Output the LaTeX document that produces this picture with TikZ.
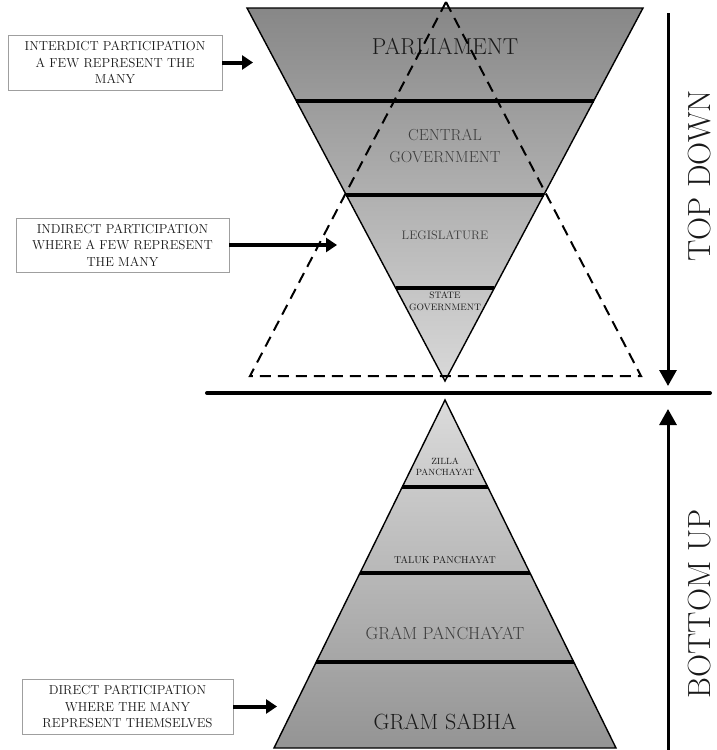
\documentclass[tikz,border=0pt]{standalone}
\usetikzlibrary{arrows.meta,calc}
\definecolor{ugtop}{gray}{0.53}
\definecolor{ugbot}{gray}{0.85}
\definecolor{lgtop}{gray}{0.86}
\definecolor{lgbot}{gray}{0.58}
\definecolor{txtdark}{gray}{0.1}
\definecolor{txtmid}{gray}{0.24}
\begin{document}
\begin{tikzpicture}[x=1pt,y=-1pt,
  bandline/.style={line width=4.5pt,line cap=butt},
  outline/.style={draw=black,line width=1.4pt,line join=miter},
  dashtri/.style={draw=black,line width=2pt,dash pattern=on 11pt off 7pt},
  lbl/.style={draw=gray!75,line width=0.8pt,fill=white,align=center,
    font=\fontsize{13}{16.5}\selectfont,text=txtdark,inner sep=0pt},
  pointer/.style={line width=4pt,-{Triangle[length=11pt,width=14pt]}},
  dirarrow/.style={line width=3pt,-{Triangle[length=16pt,width=17pt]}},
  tierlbl/.style={align=center,inner sep=0pt,text=txtdark},
  sidelbl/.style={rotate=90,inner sep=0pt,text=txtdark,font=\fontsize{32}{32}\selectfont}]
\useasboundingbox (0,0) rectangle (717,750);

% ---------- upper (inverted) triangle ----------
\coordinate (UTL) at (247,8);
\coordinate (UTR) at (643,8);
\coordinate (UAP) at (445,381);
\shade[top color=ugtop,bottom color=ugbot] (UTL) -- (UTR) -- (UAP) -- cycle;
\coordinate (U1L) at ($(UTL)!0.2493!(UAP)$);
\coordinate (U1R) at ($(UTR)!0.2493!(UAP)$);
\coordinate (U2L) at ($(UTL)!0.5013!(UAP)$);
\coordinate (U2R) at ($(UTR)!0.5013!(UAP)$);
\coordinate (U3L) at ($(UTL)!0.7507!(UAP)$);
\coordinate (U3R) at ($(UTR)!0.7507!(UAP)$);
\draw[bandline] (U1L) -- (U1R);
\draw[bandline] (U2L) -- (U2R);
\draw[bandline] (U3L) -- (U3R);
\draw[outline] (UTL) -- (UTR) -- (UAP) -- cycle;

\node[tierlbl,font=\fontsize{23}{23}\selectfont] (parl) at (445,47) {PARLIAMENT};
\node[tierlbl,text=txtmid,font=\fontsize{16}{22}\selectfont] (cgov) at (445,146) {CENTRAL\\GOVERNMENT};
\node[tierlbl,text=txtmid,font=\fontsize{12.3}{12.3}\selectfont] (legis) at (445,235) {LEGISLATURE};
\node[tierlbl,font=\fontsize{9.3}{12}\selectfont] (sgov) at (445,301) {STATE\\GOVERNMENT};

% ---------- dashed triangle ----------
\coordinate (DA) at (446,2);
\coordinate (DL) at (250,376);
\coordinate (DR) at (641,376);
\draw[dashtri] (DA) -- (DL) -- (DR) -- cycle;

% ---------- dividing line ----------
\coordinate (HL) at (207,393);
\coordinate (HR) at (710,393);
\draw[line width=4pt,line cap=round] (HL) -- (HR);

% ---------- lower pyramid ----------
\coordinate (LAP) at (445,400);
\coordinate (LBL) at (274,748);
\coordinate (LBR) at (616,748);
\shade[top color=lgtop,bottom color=lgbot] (LAP) -- (LBR) -- (LBL) -- cycle;
\coordinate (L1L) at ($(LAP)!0.25!(LBL)$);
\coordinate (L1R) at ($(LAP)!0.25!(LBR)$);
\coordinate (L2L) at ($(LAP)!0.4971!(LBL)$);
\coordinate (L2R) at ($(LAP)!0.4971!(LBR)$);
\coordinate (L3L) at ($(LAP)!0.7529!(LBL)$);
\coordinate (L3R) at ($(LAP)!0.7529!(LBR)$);
\draw[bandline] (L1L) -- (L1R);
\draw[bandline] (L2L) -- (L2R);
\draw[bandline] (L3L) -- (L3R);
\draw[outline] (LAP) -- (LBR) -- (LBL) -- cycle;

\node[tierlbl,font=\fontsize{9}{11}\selectfont] (zilla) at (445,467) {ZILLA\\PANCHAYAT};
\node[tierlbl,font=\fontsize{10}{10}\selectfont] (taluk) at (445,560) {TALUK PANCHAYAT};
\node[tierlbl,text=txtmid,font=\fontsize{17.5}{17.5}\selectfont] (gpan) at (445,633) {GRAM PANCHAYAT};
\node[tierlbl,font=\fontsize{22}{22}\selectfont] (gsab) at (445,722) {GRAM SABHA};

% ---------- label boxes ----------
\node[lbl,minimum width=214pt,minimum height=55pt] (b1) at (115,62.5)
  {INTERDICT PARTICIPATION\\A FEW REPRESENT THE\\MANY};
\node[lbl,minimum width=213pt,minimum height=54pt] (b2) at (122.5,245)
  {INDIRECT PARTICIPATION\\WHERE A FEW REPRESENT\\THE MANY};
\node[lbl,minimum width=211pt,minimum height=55pt] (b3) at (127.5,706.5)
  {DIRECT PARTICIPATION\\WHERE THE MANY\\REPRESENT THEMSELVES};
\coordinate (t1) at (253,62.5);
\coordinate (t2) at (337,245);
\coordinate (t3) at (277,706.5);
\draw[pointer] (b1.east) -- (t1);
\draw[pointer] (b2.east) -- (t2);
\draw[pointer] (b3.east) -- (t3);

% ---------- direction arrows ----------
\coordinate (TDs) at (668,13);
\coordinate (TDe) at (668,386);
\coordinate (BUs) at (668,750);
\coordinate (BUe) at (668,409);
\draw[dirarrow] (TDs) -- (TDe);
\draw[dirarrow] (BUs) -- (BUe);
\node[sidelbl] (td) at (700,176) {TOP DOWN};
\node[sidelbl] (bu) at (700,604) {BOTTOM UP};
\end{tikzpicture}
\end{document}
